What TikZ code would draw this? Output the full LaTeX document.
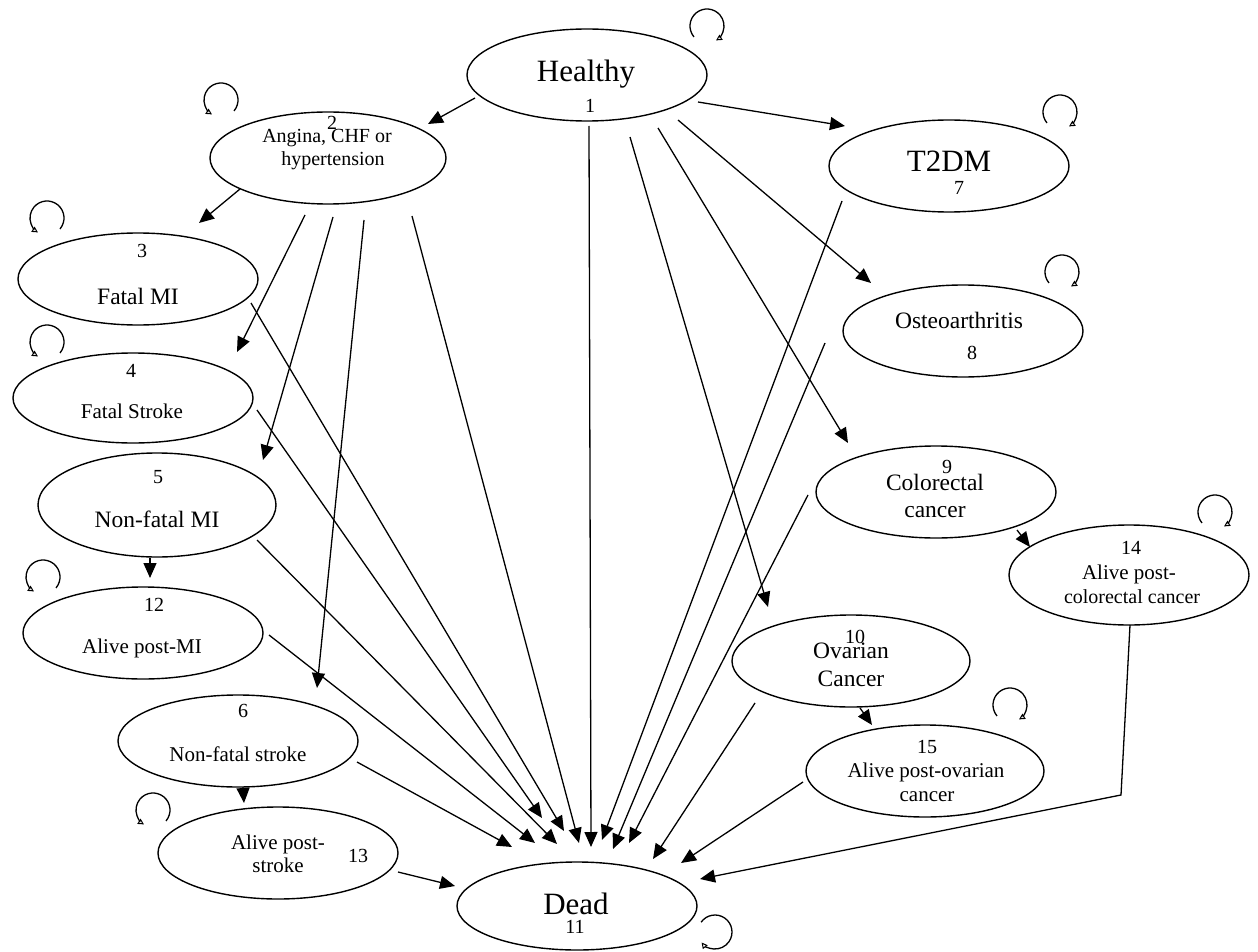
\documentclass[tikz,border=0pt]{standalone}
\usepackage{fontspec}
\setmainfont{Liberation Serif}
\usetikzlibrary{arrows.meta,shapes.geometric}
\begin{document}
\begin{tikzpicture}[x=1pt,y=1pt,
  elli/.style={draw, ellipse, line width=1.4pt, inner sep=0pt, outer sep=0pt},
  big/.style={anchor=base, inner sep=0pt, font=\fontsize{31}{36}\selectfont},
  mid/.style={anchor=base, inner sep=0pt, font=\fontsize{23.5}{27}\selectfont},
  sml/.style={anchor=base, inner sep=0pt, font=\fontsize{21}{24}\selectfont},
  num/.style={anchor=base, inner sep=0pt, font=\fontsize{20}{23}\selectfont},
  arr/.style={line width=1.3pt, -{Triangle[length=15pt,width=13pt]}},
  lp/.style={line width=1.3pt, -{Triangle[open,length=6pt,width=6pt,line width=1pt]}}]
\useasboundingbox (0,0) rectangle (1258,-952);

% ---------- ellipses ----------
\node[elli, minimum width=240pt, minimum height=92pt]  (n1)  at (587,-75)  {};
\node[elli, minimum width=236pt, minimum height=92pt]  (n2)  at (328,-158) {};
\node[elli, minimum width=240pt, minimum height=92pt]  (n3)  at (138,-279) {};
\node[elli, minimum width=240pt, minimum height=90pt]  (n4)  at (133,-398) {};
\node[elli, minimum width=238pt, minimum height=104pt] (n5)  at (157,-505) {};
\node[elli, minimum width=240pt, minimum height=92pt]  (n12) at (143,-633) {};
\node[elli, minimum width=240pt, minimum height=92pt]  (n6)  at (238,-741) {};
\node[elli, minimum width=240pt, minimum height=92pt]  (n13) at (278,-853) {};
\node[elli, minimum width=240pt, minimum height=88pt]  (n11) at (577,-906) {};
\node[elli, minimum width=240pt, minimum height=92pt]  (n7)  at (949,-166) {};
\node[elli, minimum width=240pt, minimum height=92pt]  (n8)  at (963,-331) {};
\node[elli, minimum width=240pt, minimum height=92pt]  (n9)  at (936,-492) {};
\node[elli, minimum width=240pt, minimum height=100pt] (n14) at (1129,-575) {};
\node[elli, minimum width=238pt, minimum height=92pt]  (n10) at (851,-661) {};
\node[elli, minimum width=238pt, minimum height=92pt]  (n15) at (925,-771) {};

% ---------- texts ----------
\node[big] (t1a) at (586,-82) {Healthy};
\node[num] (t1b) at (590,-113) {1};
\node[num] (t2a) at (332,-130) {2};
\node[sml, font=\fontsize{20}{23}\selectfont] (t2b) at (327,-143) {Angina, CHF or};
\node[sml, font=\fontsize{20}{23}\selectfont] (t2c) at (333,-166) {hypertension};
\node[num] (t3a) at (142,-258) {3};
\node[mid] (t3b) at (138,-304) {Fatal MI};
\node[num] (t4a) at (131,-377) {4};
\node[sml] (t4b) at (132,-418) {Fatal Stroke};
\node[num] (t5a) at (158,-483) {5};
\node[mid] (t5b) at (157,-527) {Non-fatal MI};
\node[num] (t12a) at (154,-611) {12};
\node[sml] (t12b) at (142,-653) {Alive post-MI};
\node[num] (t6a) at (243,-717) {6};
\node[sml] (t6b) at (238,-761) {Non-fatal stroke};
\node[sml] (t13a) at (278,-849) {Alive post-};
\node[sml] (t13b) at (278,-872) {stroke};
\node[num] (t13c) at (358,-862) {13};
\node[big] (t11a) at (576,-914) {Dead};
\node[num] (t11b) at (575,-933) {11};
\node[big] (t7a) at (949,-172) {T2DM};
\node[num] (t7b) at (959,-195) {7};
\node[mid] (t8a) at (959,-328) {Osteoarthritis};
\node[num] (t8b) at (972,-359) {8};
\node[num] (t9a) at (947,-473) {9};
\node[mid] (t9b) at (935,-490) {Colorectal};
\node[mid] (t9c) at (935,-517) {cancer};
\node[num] (t10a) at (855,-643) {10};
\node[mid] (t10b) at (851,-658) {Ovarian};
\node[mid] (t10c) at (851,-686) {Cancer};
\node[num] (t15a) at (927,-753) {15};
\node[sml] (t15b) at (926,-777) {Alive post-ovarian};
\node[sml] (t15c) at (927,-801) {cancer};
\node[num] (t14a) at (1131,-554) {14};
\node[sml] (t14b) at (1129,-579) {Alive post-};
\node[sml, font=\fontsize{20}{23}\selectfont] (t14c) at (1132,-603) {colorectal cancer};

% ---------- connector end points ----------
\coordinate (h2s) at (475,-98);   \coordinate (h2e) at (428,-124);
\coordinate (h7s) at (698,-102);  \coordinate (h7e) at (845,-126);
\coordinate (h11s) at (589,-126); \coordinate (h11e) at (591,-847);
\coordinate (h8s) at (678,-120);  \coordinate (h8e) at (871,-283);
\coordinate (h9s) at (658,-128);  \coordinate (h9e) at (848,-443);
\coordinate (h10s) at (630,-137); \coordinate (h10e) at (768,-607);
\coordinate (a3s) at (240,-189);  \coordinate (a3e) at (199,-223);
\coordinate (a4s) at (305,-215);  \coordinate (a4e) at (237,-352);
\coordinate (a5s) at (333,-217);  \coordinate (a5e) at (263,-460);
\coordinate (a6s) at (364,-220);  \coordinate (a6e) at (317,-688);
\coordinate (a11s) at (412,-216); \coordinate (a11e) at (579,-843);
\coordinate (d3s) at (251,-303);  \coordinate (d3e) at (564,-831);
\coordinate (d4s) at (257,-410);  \coordinate (d4e) at (542,-818);
\coordinate (d5s) at (257,-540);  \coordinate (d5e) at (557,-844);
\coordinate (d12s) at (269,-635); \coordinate (d12e) at (535,-843);
\coordinate (d6s) at (357,-762);  \coordinate (d6e) at (512,-847);
\coordinate (d13s) at (398,-872); \coordinate (d13e) at (455,-886);
\coordinate (d7s) at (842,-201);  \coordinate (d7e) at (602,-840);
\coordinate (d8s) at (825,-343);  \coordinate (d8e) at (613,-849);
\coordinate (d9s) at (808,-495);  \coordinate (d9e) at (629,-843);
\coordinate (d10s) at (755,-703); \coordinate (d10e) at (653,-859);
\coordinate (d15s) at (803,-782); \coordinate (d15e) at (681,-863);
\coordinate (d14s) at (1130,-625); \coordinate (d14m) at (1121,-795); \coordinate (d14e) at (700,-879);
\coordinate (m5s) at (150,-558);  \coordinate (m5e) at (150,-578);
\coordinate (m6s) at (243,-787);  \coordinate (m6e) at (244,-803);
\coordinate (m9s) at (1017,-530); \coordinate (m9e) at (1030,-547);
\coordinate (m10s) at (860,-708); \coordinate (m10e) at (872,-725);

% ---------- connectors ----------
\foreach \s/\e in {h2s/h2e,h7s/h7e,h11s/h11e,h8s/h8e,h9s/h9e,h10s/h10e,
  a3s/a3e,a4s/a4e,a5s/a5e,a6s/a6e,a11s/a11e,
  d3s/d3e,d4s/d4e,d5s/d5e,d12s/d12e,d6s/d6e,d13s/d13e,
  d7s/d7e,d8s/d8e,d9s/d9e,d10s/d10e,d15s/d15e,
  m5s/m5e,m6s/m6e,m9s/m9e,m10s/m10e}
  \draw[arr] (\s) -- (\e);
\draw[arr] (d14s) -- (d14m) -- (d14e);

% ---------- self loops ----------
\coordinate (L1) at (707,-26);
\coordinate (L7) at (1060,-112);
\coordinate (L8) at (1062,-272);
\coordinate (L14) at (1215,-512);
\coordinate (L15) at (1010,-705);
\coordinate (L2) at (221,-100);
\coordinate (L3) at (47,-218);
\coordinate (L4) at (47,-342);
\coordinate (L12) at (43,-577);
\coordinate (L13) at (153,-810);
\coordinate (L11) at (715,-932);
\foreach \c in {L1,L7,L8,L14,L15}
  \draw[lp] ([shift={(220:17)}]\c) arc[start angle=220, end angle=-58, radius=17pt];
\foreach \c in {L2,L3,L4,L12,L13}
  \draw[lp] ([shift={(-40:17)}]\c) arc[start angle=-40, end angle=238, radius=17pt];
\draw[lp] ([shift={(145:17)}]L11) arc[start angle=145, end angle=-142, radius=17pt];
\end{tikzpicture}
\end{document}
